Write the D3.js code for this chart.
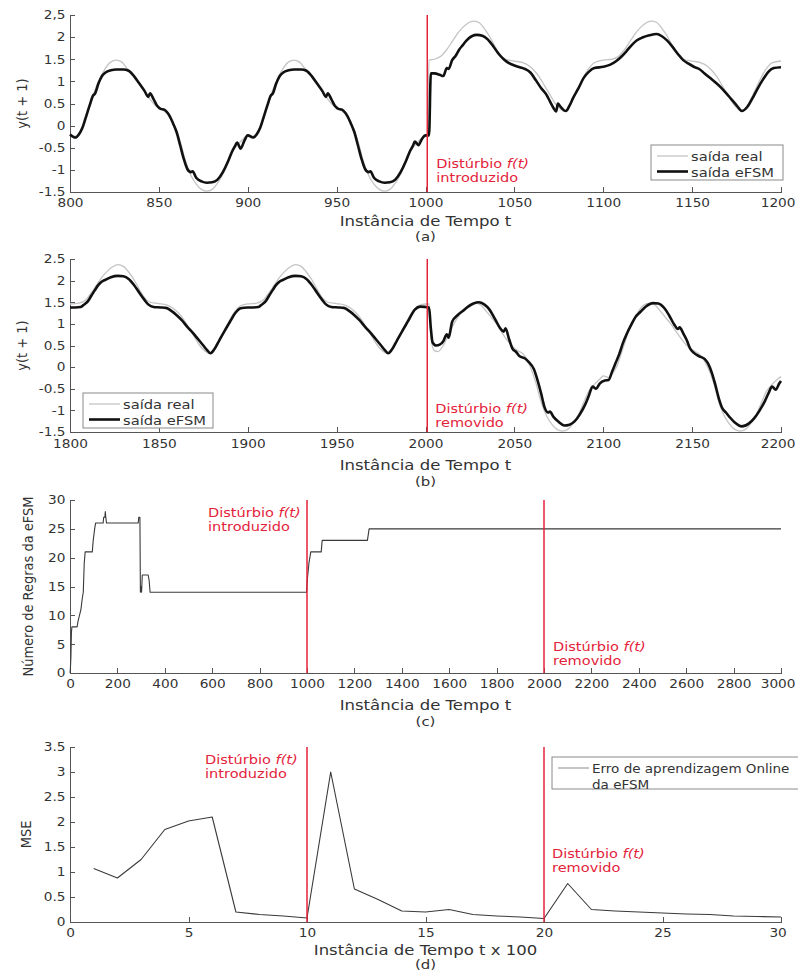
<!DOCTYPE html>
<meta charset="utf-8">

<head>
    <title>eFSM - saída real vs saída eFSM</title>
</head>

<style>
    body {
        margin: 0;
        background-color: #ffffff;
    }

    svg {
        display: block;
        font-family: "DejaVu Sans", Arial, sans-serif;
    }

    .axis path,
    .axis line {
        fill: none;
        stroke: #555555;
        stroke-width: 1px;
        shape-rendering: crispEdges;
    }

    .axis text {
        fill: #333333;
        font-size: 12px;
        font-family: "DejaVu Sans", Arial, sans-serif;
    }

    text.title {
        fill: #333333;
        font-size: 14px;
    }

    text.tag {
        fill: #333333;
        font-size: 13px;
    }

    text.ylab {
        fill: #333333;
        font-size: 13px;
    }

    text.note {
        fill: #e4233b;
        font-size: 13px;
    }

    text.leg {
        fill: #333333;
        font-size: 13px;
    }
</style>

<body>
    <svg width="798" height="972"></svg>
</body>

<script src="https://d3js.org/d3.v7.min.js"></script>

<script>
    // ---- data ----

    // (a) t = 800..1200
    var realA = [
        [800, -0.2], [803, -0.24], [806, -0.1], [808, 0.05], [810, 0.3], [812, 0.55], [814, 0.8], [817, 1.08], [820, 1.3], [823, 1.44], [826, 1.48], [829, 1.44], [832, 1.3], [835, 1.15], [838, 1.0], [841, 0.82], [844, 0.65], [847, 0.5], [850, 0.4], [853, 0.33], [856, 0.2], [859, -0.02], [862, -0.35], [865, -0.8], [868, -1.12], [871, -1.32], [874, -1.44], [877, -1.48], [880, -1.44], [883, -1.3], [886, -1.1], [889, -0.82], [892, -0.55], [895, -0.4], [898, -0.28],
        [900, -0.2], [903, -0.24], [906, -0.1], [908, 0.05], [910, 0.3], [912, 0.55], [914, 0.8], [917, 1.08], [920, 1.3], [923, 1.44], [926, 1.48], [929, 1.44], [932, 1.3], [935, 1.15], [938, 1.0], [941, 0.82], [944, 0.65], [947, 0.5], [950, 0.4], [953, 0.33], [956, 0.2], [959, -0.02], [962, -0.35], [965, -0.8], [968, -1.12], [971, -1.32], [974, -1.44], [977, -1.48], [980, -1.44], [983, -1.3], [986, -1.1], [989, -0.82], [992, -0.55], [995, -0.4], [998, -0.28],
        [1001, -0.22], [1002, 1.48], [1005, 1.5], [1009, 1.58], [1012, 1.72], [1015, 1.9], [1018, 2.08], [1021, 2.22], [1024, 2.32], [1027, 2.36], [1030, 2.33], [1033, 2.2], [1036, 2.02], [1039, 1.8], [1042, 1.6], [1045, 1.5], [1050, 1.46], [1055, 1.42], [1058, 1.36], [1061, 1.25], [1064, 1.1], [1067, 0.9], [1070, 0.7], [1073, 0.5], [1076, 0.37], [1078, 0.32], [1080, 0.38], [1083, 0.6], [1086, 0.85], [1089, 1.1], [1092, 1.3], [1095, 1.42], [1100, 1.48],
        [1105, 1.5], [1109, 1.58], [1112, 1.72], [1115, 1.9], [1118, 2.08], [1121, 2.22], [1124, 2.32], [1127, 2.36], [1130, 2.33], [1133, 2.2], [1136, 2.02], [1139, 1.8], [1142, 1.6], [1145, 1.5], [1150, 1.46], [1155, 1.42], [1158, 1.36], [1161, 1.25], [1164, 1.1], [1167, 0.9], [1170, 0.7], [1173, 0.5], [1176, 0.37], [1178, 0.32], [1180, 0.38], [1183, 0.6], [1186, 0.85], [1189, 1.1], [1192, 1.3], [1195, 1.42], [1200, 1.46]
    ];

    var efsmA = [
        [800, -0.2], [803, -0.27], [805, -0.2], [807, -0.05], [809, 0.2], [811, 0.45], [813, 0.68], [814, 0.72], [816, 0.95], [818, 1.12], [820, 1.2], [823, 1.25], [826, 1.27], [830, 1.27], [833, 1.24], [836, 1.12], [839, 0.95], [842, 0.78], [844, 0.65], [845, 0.73], [847, 0.6], [849, 0.45], [851, 0.38], [853, 0.36], [856, 0.22], [858, 0.05], [860, -0.15], [862, -0.45], [864, -0.75], [866, -0.98], [868, -1.05], [869, -1.03], [871, -1.18], [874, -1.26], [877, -1.29], [880, -1.28], [883, -1.22], [886, -1.05], [889, -0.8], [891, -0.6], [893, -0.45], [894, -0.38], [896, -0.52], [898, -0.35],
        [900, -0.22], [903, -0.27], [905, -0.2], [907, -0.05], [909, 0.2], [911, 0.45], [913, 0.68], [914, 0.72], [916, 0.95], [918, 1.12], [920, 1.2], [923, 1.25], [926, 1.27], [930, 1.27], [933, 1.24], [936, 1.12], [939, 0.95], [942, 0.78], [944, 0.65], [945, 0.73], [947, 0.6], [949, 0.45], [951, 0.38], [953, 0.36], [956, 0.22], [958, 0.05], [960, -0.15], [962, -0.45], [964, -0.75], [966, -0.98], [968, -1.05], [969, -1.03], [971, -1.18], [974, -1.26], [977, -1.29], [980, -1.28], [983, -1.22], [986, -1.05], [989, -0.8], [991, -0.6], [993, -0.45], [994, -0.36], [996, -0.44], [998, -0.3], [1000, -0.22], [1002, -0.22],
        [1003, 1.18], [1005, 1.18], [1008, 1.15], [1010, 1.12], [1012, 1.3], [1013, 1.28], [1015, 1.48], [1017, 1.58], [1019, 1.72], [1021, 1.82], [1023, 1.92], [1026, 2.02], [1029, 2.05], [1032, 2.03], [1035, 1.95], [1038, 1.8], [1041, 1.63], [1044, 1.5], [1047, 1.41], [1050, 1.36], [1053, 1.32], [1056, 1.28], [1059, 1.2], [1062, 1.03], [1065, 0.85], [1068, 0.7], [1070, 0.55], [1072, 0.4], [1073.5, 0.32], [1074.5, 0.5], [1075.5, 0.45], [1077, 0.38], [1079, 0.33], [1081, 0.45], [1083, 0.62], [1086, 0.84], [1089, 1.08], [1092, 1.22], [1095, 1.3], [1100, 1.33],
        [1104, 1.38], [1107, 1.45], [1110, 1.55], [1113, 1.68], [1116, 1.82], [1119, 1.93], [1122, 1.99], [1126, 2.04], [1130, 2.07], [1133, 2.02], [1136, 1.92], [1139, 1.78], [1142, 1.62], [1145, 1.48], [1148, 1.4], [1151, 1.33], [1154, 1.28], [1157, 1.18], [1160, 1.08], [1163, 0.98], [1166, 0.87], [1169, 0.74], [1172, 0.6], [1175, 0.46], [1178, 0.33], [1181, 0.42], [1184, 0.62], [1187, 0.85], [1190, 1.05], [1193, 1.22], [1196, 1.3], [1200, 1.32]
    ];

    // (b) t = 1800..2200
    var realB = [
        [1800, 1.46], [1805, 1.48], [1809, 1.56], [1812, 1.72], [1815, 1.9], [1818, 2.08], [1821, 2.22], [1824, 2.32], [1827, 2.37], [1830, 2.33], [1833, 2.2], [1836, 2.02], [1839, 1.8], [1842, 1.6], [1845, 1.5], [1850, 1.47], [1855, 1.43], [1858, 1.36], [1861, 1.25], [1864, 1.1], [1867, 0.9], [1870, 0.7], [1873, 0.5], [1876, 0.37], [1879, 0.31], [1881, 0.38], [1884, 0.6], [1887, 0.85], [1890, 1.1], [1893, 1.3], [1896, 1.42],
        [1900, 1.46], [1905, 1.48], [1909, 1.56], [1912, 1.72], [1915, 1.9], [1918, 2.08], [1921, 2.22], [1924, 2.32], [1927, 2.37], [1930, 2.33], [1933, 2.2], [1936, 2.02], [1939, 1.8], [1942, 1.6], [1945, 1.5], [1950, 1.47], [1955, 1.43], [1958, 1.36], [1961, 1.25], [1964, 1.1], [1967, 0.9], [1970, 0.7], [1973, 0.5], [1976, 0.37], [1979, 0.31], [1981, 0.38], [1984, 0.6], [1987, 0.85], [1990, 1.1], [1993, 1.3], [1996, 1.42],
        [2000, 1.46], [2002, 1.46], [2003, 0.7], [2005, 0.38], [2007, 0.36], [2010, 0.5], [2013, 0.75], [2016, 1.0], [2019, 1.2], [2022, 1.35], [2025, 1.45], [2028, 1.48], [2031, 1.44], [2034, 1.3], [2037, 1.15], [2040, 1.0], [2043, 0.8], [2046, 0.62], [2049, 0.48], [2052, 0.38], [2055, 0.3], [2057, 0.18], [2059, 0.0], [2062, -0.35], [2065, -0.8], [2068, -1.12], [2071, -1.32], [2074, -1.44], [2077, -1.48], [2080, -1.44], [2083, -1.3], [2086, -1.1], [2089, -0.82], [2092, -0.55], [2095, -0.4], [2098, -0.28],
        [2100, -0.2], [2103, -0.24], [2106, -0.1], [2108, 0.05], [2110, 0.3], [2112, 0.55], [2114, 0.8], [2117, 1.08], [2120, 1.3], [2123, 1.44], [2126, 1.48], [2129, 1.44], [2132, 1.3], [2135, 1.15], [2138, 1.0], [2141, 0.82], [2144, 0.65], [2147, 0.5], [2150, 0.4], [2153, 0.33], [2156, 0.2], [2159, -0.02], [2162, -0.35], [2165, -0.8], [2168, -1.12], [2171, -1.32], [2174, -1.44], [2177, -1.48], [2180, -1.44], [2183, -1.3], [2186, -1.1], [2189, -0.82], [2192, -0.55], [2195, -0.4], [2198, -0.28], [2200, -0.22]
    ];

    var efsmB = [
        [1800, 1.38], [1803, 1.38], [1806, 1.39], [1808, 1.45], [1810, 1.52], [1812, 1.65], [1814, 1.78], [1816, 1.9], [1818, 1.98], [1820, 2.02], [1823, 2.08], [1827, 2.11], [1830, 2.1], [1833, 2.04], [1836, 1.9], [1839, 1.72], [1842, 1.55], [1844, 1.45], [1847, 1.39], [1851, 1.38], [1854, 1.37], [1857, 1.3], [1860, 1.2], [1863, 1.08], [1866, 0.93], [1869, 0.8], [1872, 0.65], [1875, 0.5], [1877, 0.4], [1879, 0.32], [1881, 0.4], [1884, 0.62], [1887, 0.84], [1890, 1.05], [1893, 1.25], [1896, 1.36],
        [1900, 1.38], [1903, 1.38], [1906, 1.39], [1908, 1.45], [1910, 1.52], [1912, 1.65], [1914, 1.78], [1916, 1.9], [1918, 1.98], [1920, 2.02], [1923, 2.08], [1927, 2.11], [1930, 2.1], [1933, 2.04], [1936, 1.9], [1939, 1.72], [1942, 1.55], [1944, 1.45], [1947, 1.39], [1951, 1.38], [1954, 1.37], [1957, 1.3], [1960, 1.2], [1963, 1.08], [1966, 0.93], [1969, 0.8], [1972, 0.65], [1975, 0.5], [1977, 0.4], [1979, 0.32], [1981, 0.4], [1984, 0.62], [1987, 0.84], [1990, 1.05], [1994, 1.33], [1997, 1.4],
        [2002, 1.38], [2003, 0.9], [2004, 0.57], [2006, 0.5], [2008, 0.52], [2010, 0.6], [2012, 0.76], [2013, 0.68], [2015, 1.05], [2018, 1.2], [2021, 1.3], [2024, 1.4], [2027, 1.47], [2030, 1.5], [2033, 1.45], [2036, 1.33], [2039, 1.12], [2042, 0.9], [2044, 0.82], [2045, 0.9], [2047, 0.65], [2049, 0.42], [2051, 0.35], [2053, 0.25], [2056, 0.2], [2058, 0.12], [2061, -0.05], [2063, -0.3], [2065, -0.6], [2067, -0.93], [2069, -1.05], [2070, -1.03], [2072, -1.15], [2075, -1.27], [2078, -1.35], [2081, -1.33], [2084, -1.25], [2087, -1.08], [2090, -0.85], [2092, -0.65], [2094, -0.45], [2096, -0.5], [2098, -0.38],
        [2101, -0.31], [2103, -0.3], [2105, -0.1], [2107, 0.1], [2109, 0.3], [2111, 0.55], [2113, 0.75], [2116, 1.0], [2118, 1.15], [2121, 1.28], [2124, 1.4], [2128, 1.48], [2131, 1.47], [2134, 1.38], [2137, 1.2], [2140, 0.98], [2142, 0.88], [2143, 0.92], [2145, 0.78], [2147, 0.62], [2149, 0.42], [2151, 0.33], [2154, 0.25], [2157, 0.19], [2159, 0.08], [2161, -0.12], [2163, -0.4], [2165, -0.72], [2167, -0.95], [2169, -1.05], [2171, -1.15], [2174, -1.28], [2178, -1.37], [2182, -1.3], [2185, -1.18], [2188, -1.0], [2191, -0.78], [2193, -0.6], [2195, -0.45], [2197, -0.52], [2199, -0.38], [2200, -0.32]
    ];

    // (c) número de regras, t = 0..3000
    var rulesC = [
        [0, 0], [2, 1], [4, 3], [6, 7], [8, 8], [30, 8], [34, 9], [40, 10], [46, 11], [52, 13], [56, 14], [60, 19], [64, 21], [94, 21], [98, 23], [104, 25], [108, 26], [140, 26], [142, 27], [147, 27], [149, 28], [151, 27], [154, 26],
        [288, 26], [290, 27], [295, 27], [297, 14], [300, 15], [302, 14], [305, 17], [330, 17], [334, 16], [338, 14],
        [998, 14], [1001, 16], [1008, 19], [1016, 21], [1060, 21], [1064, 23], [1255, 23], [1262, 25], [3000, 25]
    ];

    // (d) MSE por bloco de 100 instâncias
    var blocksD = [1, 2, 3, 4, 5, 6, 7, 8, 9, 10, 11, 12, 13, 14, 15, 16, 17, 18, 19, 20, 21, 22, 23, 24, 25, 26, 27, 28, 29, 30];
    var mseD = [1.07, 0.88, 1.25, 1.85, 2.02, 2.1, 0.2, 0.15, 0.12, 0.08, 3.0, 0.66, 0.45, 0.22, 0.2, 0.25, 0.15, 0.12, 0.1, 0.07, 0.77, 0.25, 0.22, 0.2, 0.18, 0.16, 0.15, 0.12, 0.11, 0.1];

    // ticks
    var yTicksAB = [-1.5, -1, -0.5, 0, 0.5, 1, 1.5, 2, 2.5];
    var yLabelsA = ["-1.5", "-1", "-0.5", "0", "0.5", "1", "1.5", "2", "2,5"];
    var yLabelsB = ["-1.5", "-1", "-0.5", "0", "0.5", "1", "1.5", "2", "2.5"];
    var xTicksA = [800, 850, 900, 950, 1000, 1050, 1100, 1150, 1200];
    var xTicksB = [1800, 1850, 1900, 1950, 2000, 2050, 2100, 2150, 2200];
    var xTicksC = [0, 200, 400, 600, 800, 1000, 1200, 1400, 1600, 1800, 2000, 2200, 2400, 2600, 2800, 3000];
    var yTicksC = [0, 5, 10, 15, 20, 25, 30];
    var xTicksD = [0, 5, 10, 15, 20, 25, 30];
    var yTicksD = [0, 0.5, 1, 1.5, 2, 2.5, 3, 3.5];

    // disturbance markers
    var marksA = [1001];
    var marksB = [2001];
    var marksC = [1000, 2000];
    var marksD = [10, 20];

    var legendAB = ["saída real", "saída eFSM"];
    var legendD = ["Erro de aprendizagem Online", "da eFSM"];

    // ---- drawing ----
    var svg = d3.select("svg");
    var left = 70, right = 781;
    var red = "#e4233b";

    // the figure is stretched sideways, so text gets a horizontal scale
    function stext(g, x, y, sx, cls) {
        return g.append("text")
            .attr("class", cls)
            .attr("transform", "translate(" + x + "," + y + ") scale(" + sx + ",1)");
    }

    function drawPanel(p) {
        var x = d3.scaleLinear().domain(p.xDomain).range([left, right]);
        var y = d3.scaleLinear().domain(p.yDomain).range([p.bottom, p.top]);
        var g = svg.append("g");

        var xt = g.append("g")
            .attr("class", "axis")
            .attr("transform", "translate(0," + p.bottom + ")")
            .call(d3.axisBottom(x)
                .tickValues(p.xTicks)
                .tickFormat(function (d, i) { return p.xLabels ? p.xLabels[i] : String(d); })
                .tickSizeInner(-5)
                .tickSizeOuter(0)
                .tickPadding(p.xPad || 6))
            .attr("font-family", null)
            .attr("font-size", null)
            .selectAll("text").attr("transform", "scale(1.14,1)");
        // keep the last label inside the page
        xt.filter(function (d, i, n) { return i === n.length - 1; }).attr("x", -3);

        g.append("g")
            .attr("class", "axis")
            .attr("transform", "translate(" + left + ",0)")
            .call(d3.axisLeft(y)
                .tickValues(p.yTicks)
                .tickFormat(function (d, i) { return p.yLabels ? p.yLabels[i] : String(d); })
                .tickSizeInner(-5)
                .tickSizeOuter(0)
                .tickPadding(4))
            .attr("font-family", null)
            .attr("font-size", null)
            .selectAll("text").attr("transform", "scale(1.14,1)");

        p.series.forEach(function (s) {
            g.append("path")
                .datum(s.data)
                .attr("fill", "none")
                .attr("stroke", s.color)
                .attr("stroke-width", s.width)
                .attr("stroke-linejoin", "round")
                .attr("d", d3.line()
                    .x(function (d) { return x(d[0]); })
                    .y(function (d) { return y(d[1]); })
                    .curve(s.curve || d3.curveLinear));
        });

        g.selectAll("line.mark")
            .data(p.marks)
            .join("line")
            .attr("class", "mark")
            .attr("x1", function (d) { return x(d); })
            .attr("x2", function (d) { return x(d); })
            .attr("y1", y(p.yDomain[0]))
            .attr("y2", y(p.yDomain[1]))
            .attr("stroke", red)
            .attr("stroke-width", 1.5);

        p.notes.forEach(function (n) {
            var nx = x(n.at) + n.dx;
            var t = stext(g, nx, n.y, 1.12, "note");
            t.append("tspan").text("Distúrbio ");
            t.append("tspan").attr("font-style", "italic").text("f(t)");
            stext(g, nx, n.y + 14, 1.12, "note").text(n.second);
        });

        stext(g, (left + right) / 2, p.titleY, 1.18, "title")
            .attr("text-anchor", "middle")
            .text(p.title);

        stext(g, (left + right) / 2, p.tagY, 1.15, "tag")
            .attr("text-anchor", "middle")
            .text(p.tag);

        g.append("text")
            .attr("class", "ylab")
            .attr("transform", "translate(" + p.ylabX + "," + ((p.top + p.bottom) / 2) + ") rotate(-90) scale(1,1.12)")
            .attr("text-anchor", "middle")
            .text(p.ylab);

        if (p.legend) {
            var L = p.legend;
            g.append("rect")
                .attr("x", L.x).attr("y", L.y)
                .attr("width", L.w).attr("height", L.h)
                .attr("fill", "#ffffff")
                .attr("stroke", "#8a8a8a")
                .attr("stroke-width", 1);
            L.items.forEach(function (it, i) {
                var ly = L.y + 11 + i * 15.5;
                if (it.color) {
                    g.append("line")
                        .attr("x1", L.x + 6).attr("x2", L.x + 37)
                        .attr("y1", ly).attr("y2", ly)
                        .attr("stroke", it.color)
                        .attr("stroke-width", it.width);
                }
                stext(g, L.x + L.textDx, ly + 5, L.sx, "leg")
                    .attr("font-size", L.fontSize)
                    .text(it.label);
            });
        }
    }

    drawPanel({
        xDomain: [800, 1200], yDomain: [-1.5, 2.5], top: 15, bottom: 192,
        xTicks: xTicksA, yTicks: yTicksAB, yLabels: yLabelsA,
        series: [
            { data: realA, color: "#c4c4c4", width: 1.3, curve: d3.curveMonotoneX },
            { data: efsmA, color: "#111111", width: 2.6, curve: d3.curveMonotoneX }
        ],
        marks: marksA,
        notes: [{ at: marksA[0], dx: 9, y: 168, second: "introduzido" }],
        title: "Instância de Tempo t", titleY: 226, tag: "(a)", tagY: 241,
        ylab: "y(t + 1)", ylabX: 27,
        legend: {
            x: 651, y: 145, w: 132, h: 35, textDx: 40, fontSize: "13px", sx: 1.13,
            items: [
                { label: legendAB[0], color: "#c4c4c4", width: 1.3 },
                { label: legendAB[1], color: "#111111", width: 2.6 }
            ]
        }
    });

    drawPanel({
        xDomain: [1800, 2200], yDomain: [-1.5, 2.5], top: 259, bottom: 432,
        xTicks: xTicksB, yTicks: yTicksAB, yLabels: yLabelsB, xPad: 7,
        series: [
            { data: realB, color: "#c4c4c4", width: 1.3, curve: d3.curveMonotoneX },
            { data: efsmB, color: "#111111", width: 2.6, curve: d3.curveMonotoneX }
        ],
        marks: marksB,
        notes: [{ at: marksB[0], dx: 8, y: 413, second: "removido" }],
        title: "Instância de Tempo t", titleY: 470, tag: "(b)", tagY: 486,
        ylab: "y(t + 1)", ylabX: 27,
        legend: {
            x: 83, y: 393, w: 130, h: 35, textDx: 40, fontSize: "13px", sx: 1.13,
            items: [
                { label: legendAB[0], color: "#c4c4c4", width: 1.3 },
                { label: legendAB[1], color: "#111111", width: 2.6 }
            ]
        }
    });

    drawPanel({
        xDomain: [0, 3000], yDomain: [0, 30], top: 500, bottom: 673,
        xTicks: xTicksC, yTicks: yTicksC,
        series: [
            { data: rulesC, color: "#3a3a3a", width: 1.1 }
        ],
        marks: marksC,
        notes: [
            { at: marksC[0], dx: -99, y: 517, second: "introduzido" },
            { at: marksC[1], dx: 9, y: 651, second: "removido" }
        ],
        title: "Instância de Tempo t", titleY: 710, tag: "(c)", tagY: 726,
        ylab: "Número de Regras da eFSM", ylabX: 33
    });

    drawPanel({
        xDomain: [0, 30], yDomain: [0, 3.5], top: 747, bottom: 922,
        xTicks: xTicksD, yTicks: yTicksD,
        series: [
            { data: blocksD.map(function (b, i) { return [b, mseD[i]]; }), color: "#3a3a3a", width: 1.1 }
        ],
        marks: marksD,
        notes: [
            { at: marksD[0], dx: -102, y: 764, second: "introduzido" },
            { at: marksD[1], dx: 8, y: 858, second: "removido" }
        ],
        title: "Instância de Tempo t x 100", titleY: 954.5, tag: "(d)", tagY: 968.5,
        ylab: "MSE", ylabX: 31,
        legend: {
            x: 552, y: 757, w: 250, h: 32, textDx: 40, fontSize: "12.5px", sx: 1.04,
            items: [
                { label: legendD[0], color: "#8a8a8a", width: 1 },
                { label: legendD[1] }
            ]
        }
    });
</script>
